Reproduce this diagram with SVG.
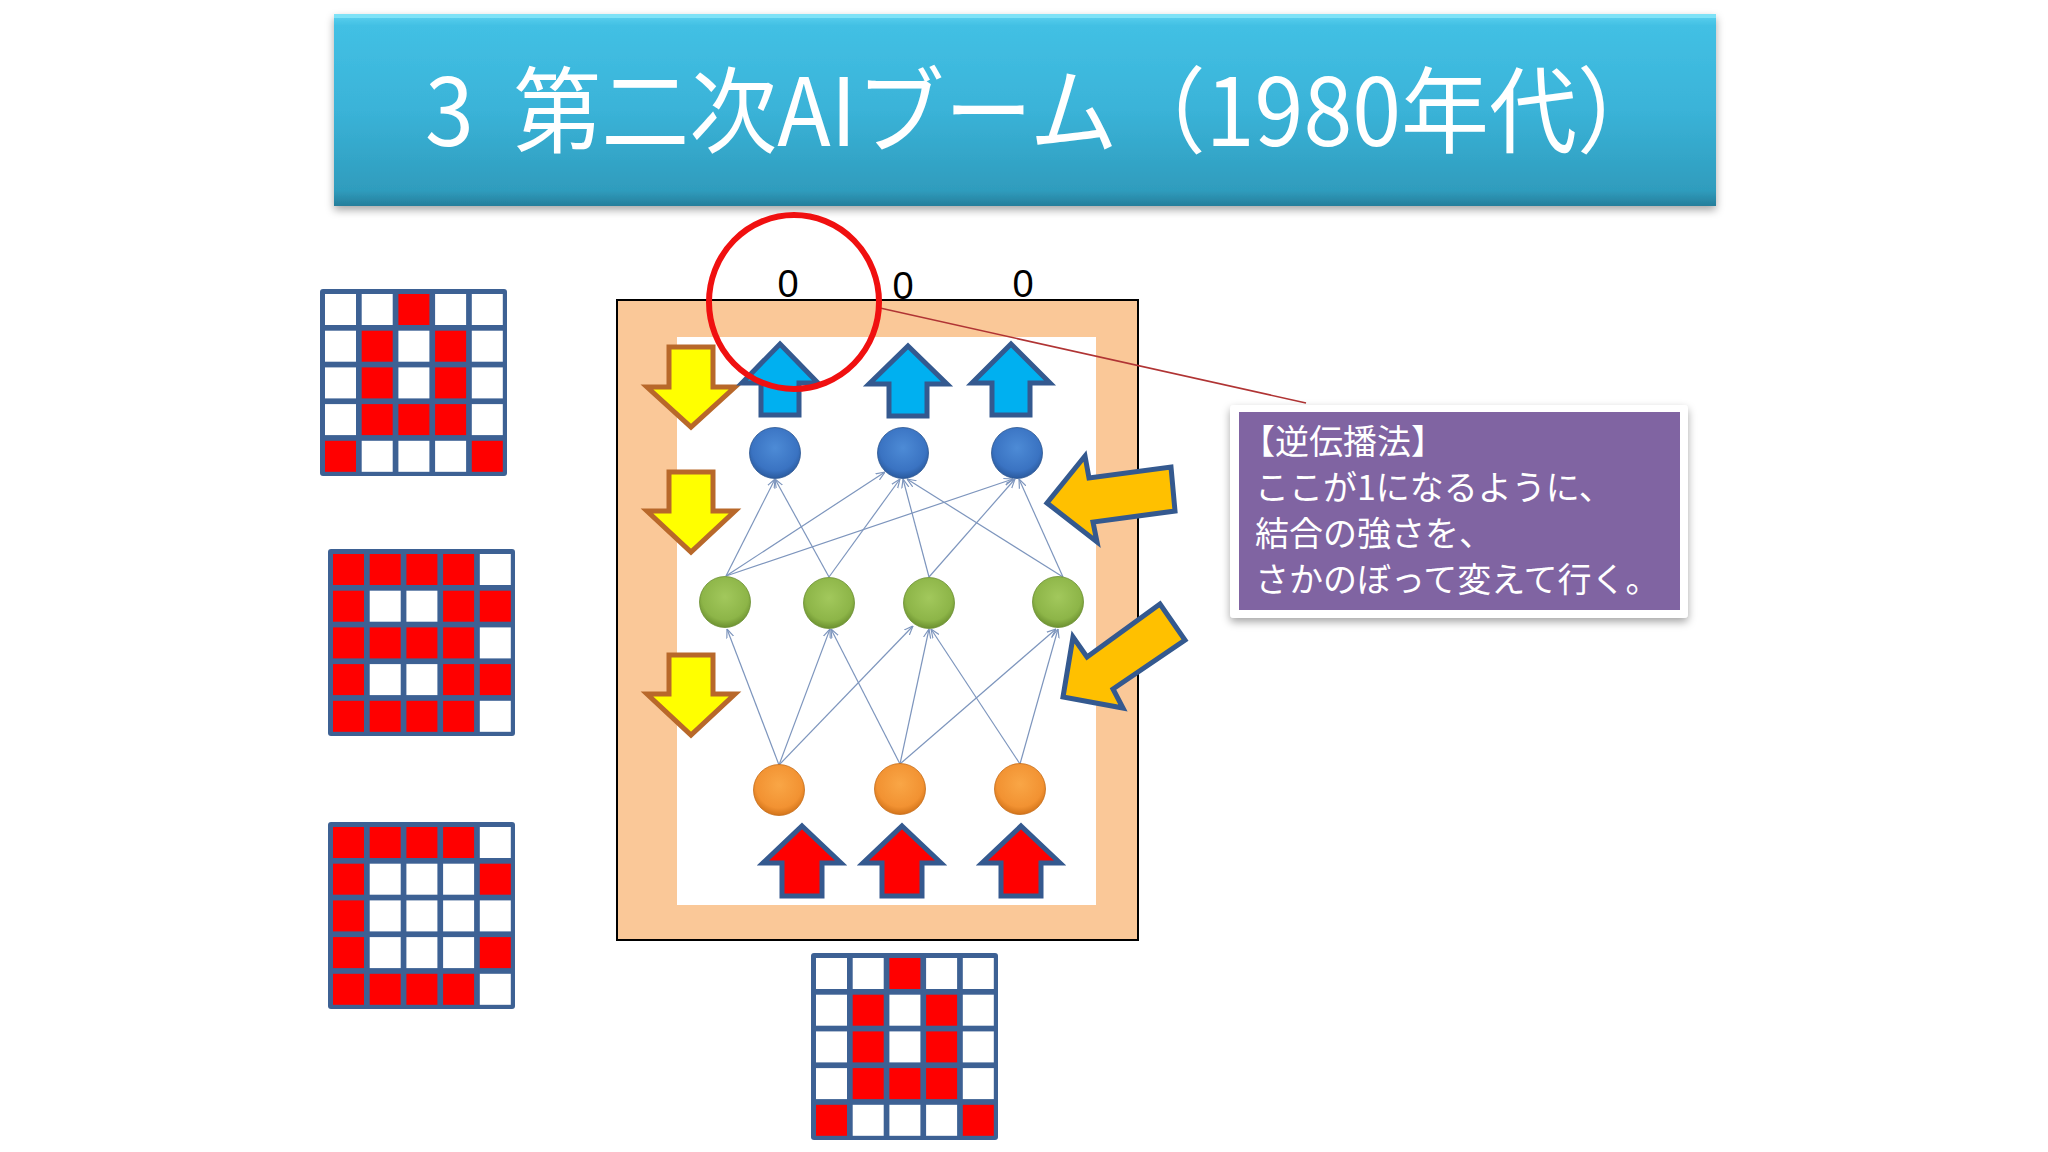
<svg xmlns="http://www.w3.org/2000/svg" width="2048" height="1152" viewBox="0 0 2048 1152">
<style>
.cell-w{fill:#ffffff}
.cell-r{fill:#ff0000}
.gridbg{fill:#3d6194}
.edge{stroke:#7d95bd;stroke-width:1.2;fill:none;marker-end:url(#ah)}
.yarrow{fill:#ffff00;stroke:#b8682a;stroke-width:5;stroke-linejoin:miter}
.barrow{fill:#00b0f0;stroke:#34598f;stroke-width:5;stroke-linejoin:miter}
.rarrow{fill:#ff0000;stroke:#34598f;stroke-width:5;stroke-linejoin:miter}
.garrow{fill:#ffc000;stroke:#34598f;stroke-width:5;stroke-linejoin:miter}
.zero{font-family:"Liberation Sans","Open Sans",sans-serif;font-size:38px;fill:#000;text-anchor:middle}
.ctext{font-family:"Noto Sans CJK JP",sans-serif;font-size:34px;fill:#ffffff}
</style>
<defs>
<linearGradient id="banner" x1="0" y1="0" x2="0" y2="1">
<stop offset="0" stop-color="#5fd3f0"/>
<stop offset="0.06" stop-color="#42c0e4"/>
<stop offset="0.5" stop-color="#3ab3d8"/>
<stop offset="0.92" stop-color="#2f9cbd"/>
<stop offset="1" stop-color="#267e9b"/>
</linearGradient>
<radialGradient id="gb" cx="0.5" cy="0.4" r="0.6">
<stop offset="0" stop-color="#4d8bd6"/>
<stop offset="0.75" stop-color="#3a73c2"/>
<stop offset="1" stop-color="#2a5a9e"/>
</radialGradient>
<radialGradient id="gg" cx="0.5" cy="0.4" r="0.6">
<stop offset="0" stop-color="#a2c85c"/>
<stop offset="0.75" stop-color="#8db548"/>
<stop offset="1" stop-color="#6c9130"/>
</radialGradient>
<radialGradient id="go" cx="0.5" cy="0.4" r="0.6">
<stop offset="0" stop-color="#f9a646"/>
<stop offset="0.75" stop-color="#f29232"/>
<stop offset="1" stop-color="#d3741a"/>
</radialGradient>
<filter id="sh" x="-5%" y="-10%" width="110%" height="130%">
<feDropShadow dx="0" dy="4" stdDeviation="4" flood-color="#000" flood-opacity="0.35"/>
</filter>
<marker id="ah" viewBox="0 0 10 10" refX="10" refY="5" markerWidth="9" markerHeight="9" markerUnits="userSpaceOnUse" orient="auto">
<path d="M0,1 L10,5 L0,9" fill="none" stroke="#7d95bd" stroke-width="1.3"/>
</marker>
</defs>
<rect width="2048" height="1152" fill="#ffffff"/>

<g id="title">
<rect x="334" y="14" width="1382" height="192" fill="url(#banner)" filter="url(#sh)"/>
<rect x="334" y="14" width="1382" height="4" fill="#7ee2f7"/>
<text x="425" y="146" xml:space="preserve" style="white-space:pre" font-family="'Noto Sans CJK JP',sans-serif" font-size="94" fill="#ffffff" textLength="1240" lengthAdjust="spacingAndGlyphs">3  第二次AIブーム（1980年代）</text>
</g>

<g id="grid-A-left" transform="translate(320,289)">
<rect class="gridbg" x="0" y="0" width="187" height="187" rx="3"/>
<rect class="cell-w" x="5" y="5" width="31" height="31"/><rect class="cell-w" x="41.7" y="5" width="31" height="31"/><rect class="cell-r" x="78.4" y="5" width="31" height="31"/><rect class="cell-w" x="115.1" y="5" width="31" height="31"/><rect class="cell-w" x="151.8" y="5" width="31" height="31"/>
<rect class="cell-w" x="5" y="41.7" width="31" height="31"/><rect class="cell-r" x="41.7" y="41.7" width="31" height="31"/><rect class="cell-w" x="78.4" y="41.7" width="31" height="31"/><rect class="cell-r" x="115.1" y="41.7" width="31" height="31"/><rect class="cell-w" x="151.8" y="41.7" width="31" height="31"/>
<rect class="cell-w" x="5" y="78.4" width="31" height="31"/><rect class="cell-r" x="41.7" y="78.4" width="31" height="31"/><rect class="cell-w" x="78.4" y="78.4" width="31" height="31"/><rect class="cell-r" x="115.1" y="78.4" width="31" height="31"/><rect class="cell-w" x="151.8" y="78.4" width="31" height="31"/>
<rect class="cell-w" x="5" y="115.1" width="31" height="31"/><rect class="cell-r" x="41.7" y="115.1" width="31" height="31"/><rect class="cell-r" x="78.4" y="115.1" width="31" height="31"/><rect class="cell-r" x="115.1" y="115.1" width="31" height="31"/><rect class="cell-w" x="151.8" y="115.1" width="31" height="31"/>
<rect class="cell-r" x="5" y="151.8" width="31" height="31"/><rect class="cell-w" x="41.7" y="151.8" width="31" height="31"/><rect class="cell-w" x="78.4" y="151.8" width="31" height="31"/><rect class="cell-w" x="115.1" y="151.8" width="31" height="31"/><rect class="cell-r" x="151.8" y="151.8" width="31" height="31"/>
</g>

<g id="grid-B" transform="translate(328,549)">
<rect class="gridbg" x="0" y="0" width="187" height="187" rx="3"/>
<rect class="cell-r" x="5" y="5" width="31" height="31"/><rect class="cell-r" x="41.7" y="5" width="31" height="31"/><rect class="cell-r" x="78.4" y="5" width="31" height="31"/><rect class="cell-r" x="115.1" y="5" width="31" height="31"/><rect class="cell-w" x="151.8" y="5" width="31" height="31"/>
<rect class="cell-r" x="5" y="41.7" width="31" height="31"/><rect class="cell-w" x="41.7" y="41.7" width="31" height="31"/><rect class="cell-w" x="78.4" y="41.7" width="31" height="31"/><rect class="cell-r" x="115.1" y="41.7" width="31" height="31"/><rect class="cell-r" x="151.8" y="41.7" width="31" height="31"/>
<rect class="cell-r" x="5" y="78.4" width="31" height="31"/><rect class="cell-r" x="41.7" y="78.4" width="31" height="31"/><rect class="cell-r" x="78.4" y="78.4" width="31" height="31"/><rect class="cell-r" x="115.1" y="78.4" width="31" height="31"/><rect class="cell-w" x="151.8" y="78.4" width="31" height="31"/>
<rect class="cell-r" x="5" y="115.1" width="31" height="31"/><rect class="cell-w" x="41.7" y="115.1" width="31" height="31"/><rect class="cell-w" x="78.4" y="115.1" width="31" height="31"/><rect class="cell-r" x="115.1" y="115.1" width="31" height="31"/><rect class="cell-r" x="151.8" y="115.1" width="31" height="31"/>
<rect class="cell-r" x="5" y="151.8" width="31" height="31"/><rect class="cell-r" x="41.7" y="151.8" width="31" height="31"/><rect class="cell-r" x="78.4" y="151.8" width="31" height="31"/><rect class="cell-r" x="115.1" y="151.8" width="31" height="31"/><rect class="cell-w" x="151.8" y="151.8" width="31" height="31"/>
</g>

<g id="grid-C" transform="translate(328,822)">
<rect class="gridbg" x="0" y="0" width="187" height="187" rx="3"/>
<rect class="cell-r" x="5" y="5" width="31" height="31"/><rect class="cell-r" x="41.7" y="5" width="31" height="31"/><rect class="cell-r" x="78.4" y="5" width="31" height="31"/><rect class="cell-r" x="115.1" y="5" width="31" height="31"/><rect class="cell-w" x="151.8" y="5" width="31" height="31"/>
<rect class="cell-r" x="5" y="41.7" width="31" height="31"/><rect class="cell-w" x="41.7" y="41.7" width="31" height="31"/><rect class="cell-w" x="78.4" y="41.7" width="31" height="31"/><rect class="cell-w" x="115.1" y="41.7" width="31" height="31"/><rect class="cell-r" x="151.8" y="41.7" width="31" height="31"/>
<rect class="cell-r" x="5" y="78.4" width="31" height="31"/><rect class="cell-w" x="41.7" y="78.4" width="31" height="31"/><rect class="cell-w" x="78.4" y="78.4" width="31" height="31"/><rect class="cell-w" x="115.1" y="78.4" width="31" height="31"/><rect class="cell-w" x="151.8" y="78.4" width="31" height="31"/>
<rect class="cell-r" x="5" y="115.1" width="31" height="31"/><rect class="cell-w" x="41.7" y="115.1" width="31" height="31"/><rect class="cell-w" x="78.4" y="115.1" width="31" height="31"/><rect class="cell-w" x="115.1" y="115.1" width="31" height="31"/><rect class="cell-r" x="151.8" y="115.1" width="31" height="31"/>
<rect class="cell-r" x="5" y="151.8" width="31" height="31"/><rect class="cell-r" x="41.7" y="151.8" width="31" height="31"/><rect class="cell-r" x="78.4" y="151.8" width="31" height="31"/><rect class="cell-r" x="115.1" y="151.8" width="31" height="31"/><rect class="cell-w" x="151.8" y="151.8" width="31" height="31"/>
</g>

<g id="network-frame">
<rect x="617" y="300" width="521" height="640" fill="#fac898" stroke="#000000" stroke-width="2"/>
<rect x="677" y="337" width="419" height="568" fill="#ffffff"/>
</g>

<g id="grid-A-bottom" transform="translate(811,953)">
<rect class="gridbg" x="0" y="0" width="187" height="187" rx="3"/>
<rect class="cell-w" x="5" y="5" width="31" height="31"/><rect class="cell-w" x="41.7" y="5" width="31" height="31"/><rect class="cell-r" x="78.4" y="5" width="31" height="31"/><rect class="cell-w" x="115.1" y="5" width="31" height="31"/><rect class="cell-w" x="151.8" y="5" width="31" height="31"/>
<rect class="cell-w" x="5" y="41.7" width="31" height="31"/><rect class="cell-r" x="41.7" y="41.7" width="31" height="31"/><rect class="cell-w" x="78.4" y="41.7" width="31" height="31"/><rect class="cell-r" x="115.1" y="41.7" width="31" height="31"/><rect class="cell-w" x="151.8" y="41.7" width="31" height="31"/>
<rect class="cell-w" x="5" y="78.4" width="31" height="31"/><rect class="cell-r" x="41.7" y="78.4" width="31" height="31"/><rect class="cell-w" x="78.4" y="78.4" width="31" height="31"/><rect class="cell-r" x="115.1" y="78.4" width="31" height="31"/><rect class="cell-w" x="151.8" y="78.4" width="31" height="31"/>
<rect class="cell-w" x="5" y="115.1" width="31" height="31"/><rect class="cell-r" x="41.7" y="115.1" width="31" height="31"/><rect class="cell-r" x="78.4" y="115.1" width="31" height="31"/><rect class="cell-r" x="115.1" y="115.1" width="31" height="31"/><rect class="cell-w" x="151.8" y="115.1" width="31" height="31"/>
<rect class="cell-r" x="5" y="151.8" width="31" height="31"/><rect class="cell-w" x="41.7" y="151.8" width="31" height="31"/><rect class="cell-w" x="78.4" y="151.8" width="31" height="31"/><rect class="cell-w" x="115.1" y="151.8" width="31" height="31"/><rect class="cell-r" x="151.8" y="151.8" width="31" height="31"/>
</g>

<g id="connectors">
<line class="edge" x1="726" y1="576" x2="775" y2="479"/>
<line class="edge" x1="829" y1="577" x2="775" y2="479"/>
<line class="edge" x1="726" y1="576" x2="885" y2="472"/>
<line class="edge" x1="829" y1="577" x2="900" y2="479"/>
<line class="edge" x1="929" y1="577" x2="903" y2="479"/>
<line class="edge" x1="1063" y1="577" x2="907" y2="479"/>
<line class="edge" x1="726" y1="576" x2="1013" y2="479"/>
<line class="edge" x1="929" y1="577" x2="1015" y2="479"/>
<line class="edge" x1="1063" y1="577" x2="1019" y2="479"/>
<line class="edge" x1="779" y1="765" x2="727" y2="629"/>
<line class="edge" x1="779" y1="765" x2="830" y2="629"/>
<line class="edge" x1="779" y1="765" x2="913" y2="626"/>
<line class="edge" x1="900" y1="764" x2="831" y2="629"/>
<line class="edge" x1="900" y1="764" x2="929" y2="629"/>
<line class="edge" x1="900" y1="764" x2="1056" y2="629"/>
<line class="edge" x1="1020" y1="764" x2="931" y2="629"/>
<line class="edge" x1="1020" y1="764" x2="1058" y2="629"/>
<line x1="880" y1="308" x2="1306" y2="403" stroke="#b03434" stroke-width="1.6"/>
</g>

<g id="output-layer">
<circle cx="775" cy="453" r="25.5" fill="url(#gb)" stroke="#2b5690" stroke-width="0.8"/>
<circle cx="903" cy="453" r="25.5" fill="url(#gb)" stroke="#2b5690" stroke-width="0.8"/>
<circle cx="1017" cy="453" r="25.5" fill="url(#gb)" stroke="#2b5690" stroke-width="0.8"/>
</g>
<g id="hidden-layer">
<circle cx="725" cy="602" r="25.5" fill="url(#gg)" stroke="#6a8e30" stroke-width="0.8"/>
<circle cx="829" cy="603" r="25.5" fill="url(#gg)" stroke="#6a8e30" stroke-width="0.8"/>
<circle cx="929" cy="603" r="25.5" fill="url(#gg)" stroke="#6a8e30" stroke-width="0.8"/>
<circle cx="1058" cy="602" r="25.5" fill="url(#gg)" stroke="#6a8e30" stroke-width="0.8"/>
</g>
<g id="input-layer">
<circle cx="779" cy="790" r="25.5" fill="url(#go)" stroke="#c56c18" stroke-width="0.8"/>
<circle cx="900" cy="789" r="25.5" fill="url(#go)" stroke="#c56c18" stroke-width="0.8"/>
<circle cx="1020" cy="789" r="25.5" fill="url(#go)" stroke="#c56c18" stroke-width="0.8"/>
</g>

<g id="backprop-arrows">
<polygon class="yarrow" points="669,347 713,347 713,387 735,387 691,427 647,387 669,387"/>
<polygon class="yarrow" points="669,472 713,472 713,511 735,511 691,552 647,511 669,511"/>
<polygon class="yarrow" points="669,655 713,655 713,694 735,694 691,735 647,694 669,694"/>
</g>

<g id="output-arrows">
<polygon class="barrow" points="780,344 818,383 799,383 799,415 761,415 761,383 742,383"/>
<polygon class="barrow" points="908,346 947,384 927,384 927,416 889,416 889,384 869,384"/>
<polygon class="barrow" points="1011,344 1050,383 1030,383 1030,415 992,415 992,383 972,383"/>
</g>

<g id="input-arrows">
<polygon class="rarrow" points="802,826 841,863 822,863 822,896 782,896 782,863 763,863"/>
<polygon class="rarrow" points="902,826 941,863 922,863 922,896 882,896 882,863 863,863"/>
<polygon class="rarrow" points="1021,826 1060,863 1041,863 1041,896 1001,896 1001,863 982,863"/>
</g>

<g id="weight-arrows">
<polygon class="garrow" points="1047,503 1085,456 1089,478 1171,467 1175,511 1093,522 1097,542"/>
<polygon class="garrow" points="1063,697 1073,637 1087,657 1160,604 1185,640 1113,689 1123,708"/>
</g>

<g id="outputs">
<text class="zero" x="788" y="297">0</text>
<text class="zero" x="903" y="299">0</text>
<text class="zero" x="1023" y="297">0</text>
</g>

<g id="highlight">
<ellipse cx="794" cy="302" rx="85" ry="87" fill="none" stroke="#f01010" stroke-width="6"/>
</g>

<g id="callout">
<rect x="1230" y="405" width="458" height="213" rx="4" fill="#ffffff" filter="url(#sh)"/>
<rect x="1239" y="412" width="441" height="198" fill="#8064a2"/>
<text class="ctext" x="1241" y="454" textLength="204" lengthAdjust="spacingAndGlyphs">【逆伝播法】</text>
<text class="ctext" x="1255" y="500">ここが1になるように、</text>
<text class="ctext" x="1255" y="546">結合の強さを、</text>
<text class="ctext" x="1255" y="592">さかのぼって変えて行く。</text>
</g>
</svg>
